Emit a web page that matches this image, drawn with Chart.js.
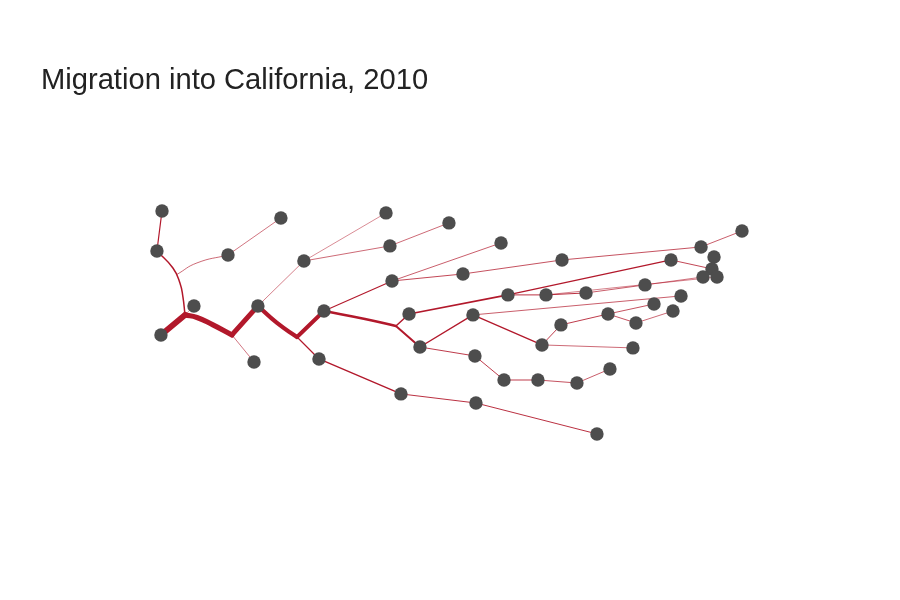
<!DOCTYPE html>
<html>
<head>
<meta charset="utf-8">
<title>Migration into California, 2010</title>
<script src="https://cdn.jsdelivr.net/npm/chart.js@4/dist/chart.umd.min.js"></script>
<style>
html,body{margin:0;padding:0;background:#fff}
canvas{display:block}
</style>
</head>
<body>
<canvas id="flowChart" width="900" height="600"></canvas>
<script>
// States, longitude and latitude of each dot
const states=['CA','NV','OR','WA','ID','MT','UT','AZ','WY','ND','SD','MN','CO','NM','NE','WI','IA','MI','VT','ME','NY','NH','MA','CT','RI','KS','OK','MO','IL','IN','OH','PA','NJ','MD','TN','KY','WV','VA','DE','NC','AR','MS','AL','GA','SC','TX','LA','FL'];
const stateLon=[-119.5,-116.63,-119.85,-119.41,-113.67,-109.07,-111.07,-111.41,-107.07,-99.93,-99.59,-94.46,-105.33,-105.76,-99.41,-89.93,-93.24,-84.63,-72.54,-68.98,-75.15,-71.41,-71.59,-72.37,-71.15,-97.93,-96.98,-92.37,-89.33,-86.02,-82.54,-77.41,-74.28,-76.63,-86.37,-84.72,-80.63,-78.2,-74.98,-78.46,-92.2,-89.67,-86.72,-83.33,-80.46,-98.63,-92.11,-81.59];
const stateLat=[36.62,39.14,43.92,47.4,43.57,46.79,39.14,34.27,43.05,47.23,44.36,46.36,38.7,34.53,41.31,44.62,41.92,43.14,44.27,45.66,43.14,43.4,42.36,41.66,41.66,38.44,35.57,38.36,40.1,40.1,40.27,40.97,40.01,39.31,35.75,37.49,38.44,37.66,38.7,35.49,34.79,32.7,32.7,32.44,33.66,31.49,30.7,28.01];

// Branch points and bends of the flow tree
const bends=['j1','j2','j3','j4','j5','b1','b1a','b2','b3','b4','b5','b6','b7'];
const bendLon=[-117.41,-113.33,-107.67,-99.07,-118.11,-116.37,-114.98,-109.41,-101.76,-117.59,-117.85,-118.46,-116.37];
const bendLat=[38.36,36.62,36.44,37.4,41.88,38.14,37.49,37.66,38.01,39.92,41.14,42.44,42.88];

// Flow routes, and people moving along each one
const routes=[
  ['CA','j1'],['j1','b1','b1a','j2'],['j2','UT'],['UT','b2','j3'],['j3','CO'],['CO','b3','j4'],
  ['j1','b4','b5','b6','OR'],['OR','WA'],['j5','b7','ID'],['ID','MT'],['j1','NV'],['j2','AZ'],
  ['UT','WY'],['WY','ND'],['WY','SD'],['SD','MN'],
  ['j3','NM'],['NM','TX'],['TX','LA'],['LA','FL'],
  ['CO','NE'],['NE','WI'],['NE','IA'],['IA','MI'],['MI','VT'],['VT','ME'],
  ['j4','KS'],['j4','OK'],['KS','IL'],['IL','NY'],['NY','MA'],['MA','NH'],
  ['IL','IN'],['IN','OH'],['OH','PA'],['PA','CT'],['IN','RI'],
  ['OK','MO'],['MO','TN'],['MO','NJ'],['TN','NC'],['TN','KY'],['KY','WV'],['WV','MD'],['WV','VA'],['VA','DE'],
  ['OK','AR'],['AR','MS'],['MS','AL'],['AL','GA'],['GA','SC']
];
const routeFlow=[
  118000,104000,100000,84000,78000,52000,
  30000,24000,13000,12000,9000,12000,
  11000,10000,13000,13000,
  24000,28000,18000,18000,
  22000,14000,16000,15000,15000,14000,
  30000,40000,34000,24000,16000,10000,
  18000,18000,14000,12000,11000,
  28000,26000,14000,13000,17000,17000,15000,15000,13000,
  17000,17000,17000,15000,14000
];

// Pixels of line per person moved
const widthPerPerson=1/20000;

function place(name){
  let i=states.indexOf(name);
  if(i>=0) return {x:stateLon[i],y:stateLat[i]};
  i=bends.indexOf(name);
  return {x:bendLon[i],y:bendLat[i]};
}

const datasets=[{
  label:'States',
  data:states.map(s=>place(s)),
  backgroundColor:'#4d4d4d',
  borderWidth:0,
  pointRadius:6.7,
  showLine:false,
  order:0
}];

routes.forEach((path,i)=>{
  datasets.push({
    label:path[0]+'-'+path[path.length-1],
    data:path.map(p=>place(p)),
    showLine:true,
    tension:path.length>2?0.5:0,
    borderColor:'#b2182b',
    borderWidth:routeFlow[i]*widthPerPerson,
    borderCapStyle:'round',
    borderJoinStyle:'round',
    pointRadius:0,
    order:1
  });
});

new Chart(document.getElementById('flowChart'),{
  type:'scatter',
  data:{datasets:datasets},
  options:{
    responsive:false,
    animation:false,
    layout:{autoPadding:false,padding:{left:41,top:0,right:0,bottom:0}},
    plugins:{
      legend:{display:false},
      tooltip:{enabled:false},
      title:{
        display:true,
        text:'Migration into California, 2010',
        align:'start',
        color:'#222222',
        font:{family:'"Liberation Sans"',size:29.15,weight:'normal'},
        padding:{top:63.5,bottom:1.5}
      }
    },
    scales:{
      x:{type:'linear',display:false,min:-129.93,max:-55.24},
      y:{type:'linear',display:false,min:13.57,max:57.05}
    }
  }
});
</script>
</body>
</html>
